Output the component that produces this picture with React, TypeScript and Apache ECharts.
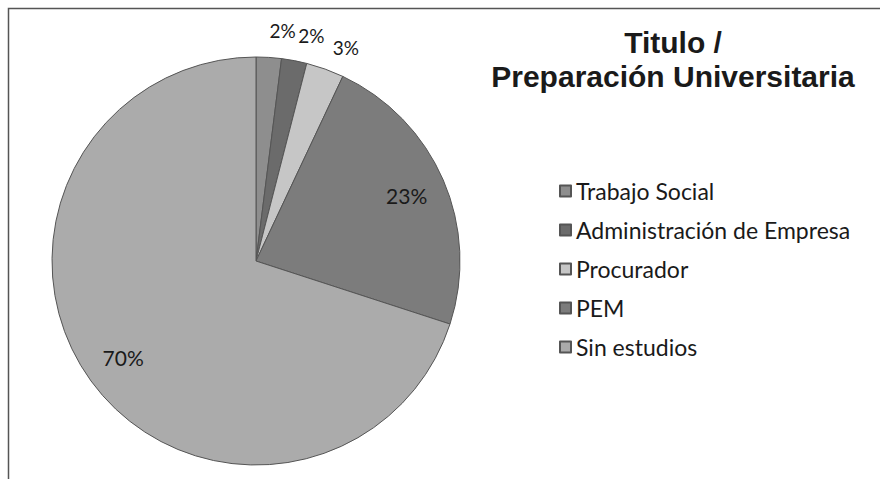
import React, { useEffect, useRef } from "react";
import * as echarts from "echarts";

const categories = ["Trabajo Social", "Administración de Empresa", "Procurador", "PEM", "Sin estudios"];
const values = [2, 2, 3, 23, 70];
const colors = ["#8e8e8e", "#6b6b6b", "#c6c6c6", "#7c7c7c", "#ababab"];
const titleLines = ["Titulo /", "Preparación Universitaria"];
const outsideLabelled = ["Trabajo Social", "Administración de Empresa", "Procurador"];

const FONT = "Lato, 'Open Sans', sans-serif";
const TITLE_FONT = "'Liberation Sans', Arial, sans-serif";

export default function App() {
  const ref = useRef<HTMLDivElement>(null);
  useEffect(() => {
    if (!ref.current) return;
    const chart = echarts.init(ref.current, null, { renderer: "svg" });
    const R = 204;
    const center = [256, 261];
    const mainData = categories.map((name, i) => ({
      name,
      value: values[i],
      itemStyle: { color: colors[i] },
    }));
    const innerLabelData = categories.map((name, i) => ({
      name,
      value: values[i],
      label: { show: !outsideLabelled.includes(name) },
    }));
    const outerLabelData = categories.map((name, i) => ({
      name,
      value: values[i],
      label: { show: outsideLabelled.includes(name) },
    }));
    const labelSeries = (radius: number, startAngle: number, fontSize: number, data: any[]) => ({
      type: "pie",
      center,
      radius: [0, radius],
      startAngle,
      clockwise: true,
      silent: true,
      animation: false,
      avoidLabelOverlap: false,
      labelLayout: { hideOverlap: false },
      itemStyle: { color: "rgba(0,0,0,0)", borderWidth: 0 },
      emphasis: { disabled: true },
      labelLine: { show: false },
      label: {
        position: "inside",
        formatter: (p: any) => Math.round(p.percent) + "%",
        fontFamily: FONT,
        fontSize,
        color: "#1a1a1a",
      },
      data,
    });
    const titleStyle = {
      fontFamily: TITLE_FONT,
      fontWeight: "bold",
      fontSize: 30,
      lineHeight: 34,
      color: "#1a1a1a",
    };
    chart.setOption({
      animation: false,
      backgroundColor: "#ffffff",
      title: titleLines.map((t, i) => ({
        text: t,
        left: 673,
        top: 25 + i * 34,
        padding: 0,
        textAlign: "center",
        textStyle: titleStyle,
      })),
      legend: {
        orient: "vertical",
        left: 554,
        top: 174,
        itemGap: 15,
        itemWidth: 11,
        itemHeight: 11,
        icon: "rect",
        data: categories,
        textStyle: { fontFamily: FONT, fontSize: 23, lineHeight: 24, color: "#1a1a1a" },
      },
      graphic: [
        {
          type: "rect",
          shape: { x: 8.5, y: 8.5, width: 900, height: 500 },
          style: { fill: "none", stroke: "#555", lineWidth: 1.5 },
          silent: true,
        },
      ],
      series: [
        {
          type: "pie",
          center,
          radius: [0, R],
          startAngle: 90,
          clockwise: true,
          silent: true,
          label: { show: false },
          labelLine: { show: false },
          itemStyle: { borderColor: "#555", borderWidth: 1 },
          data: mainData,
        },
        labelSeries(R * 0.79 * 2, 90, 21, innerLabelData),
        labelSeries((R + 25) * 2, 87, 19, outerLabelData),
      ],
    });
    return () => chart.dispose();
  }, []);
  return (
    <div
      ref={ref}
      style={{ position: "fixed", left: 0, top: 0, width: 880, height: 479 }}
    />
  );
}
